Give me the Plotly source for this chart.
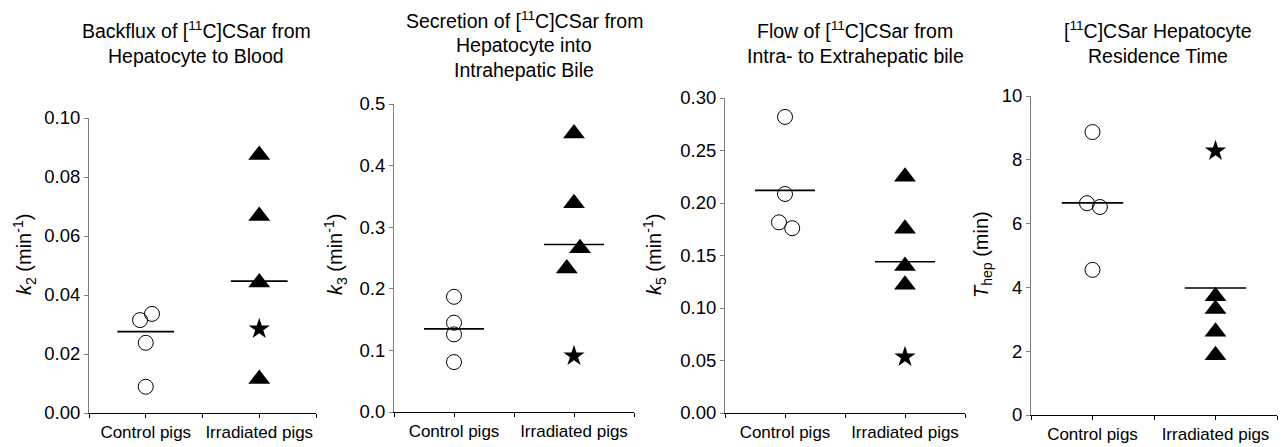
import plotly.graph_objects as go

# ---------------- data ----------------
categories = ["Control pigs", "Irradiated pigs"]
cat_pos = [1, 3]

panel_titles = [
    ["Backflux of [<sup>11</sup>C]CSar from", "Hepatocyte to Blood"],
    ["Secretion of [<sup>11</sup>C]CSar from", "Hepatocyte into", "Intrahepatic Bile"],
    ["Flow of [<sup>11</sup>C]CSar from", "Intra- to Extrahepatic bile"],
    ["[<sup>11</sup>C]CSar Hepatocyte", "Residence Time"],
]
y_titles = [
    "<i>k</i><sub>2</sub> (min<sup>-1</sup>)",
    "<i>k</i><sub>3</sub> (min<sup>-1</sup>)",
    "<i>k</i><sub>5</sub> (min<sup>-1</sup>)",
    "<i>T</i><sub>hep</sub> (min)",
]

# k2
k2_control = [0.0315, 0.0336, 0.0238, 0.0089]
k2_control_x = [0.90, 1.11, 1.0, 1.0]
k2_irr_tri = [0.0875, 0.0668, 0.0442, 0.0115]
k2_irr_tri_x = [3, 3, 3, 3]
k2_irr_star = [0.0285]
k2_lines = [0.0276, 0.0447]
k2_ticks = [0, 0.02, 0.04, 0.06, 0.08, 0.10]

# k3
k3_control = [0.187, 0.145, 0.126, 0.081]
k3_control_x = [1, 1, 1, 1]
k3_irr_tri = [0.452, 0.339, 0.266, 0.233]
k3_irr_tri_x = [3, 3, 3.1, 2.88]
k3_irr_star = [0.091]
k3_lines = [0.135, 0.272]
k3_ticks = [0, 0.1, 0.2, 0.3, 0.4, 0.5]

# k5
k5_control = [0.282, 0.2086, 0.1816, 0.176]
k5_control_x = [1.0, 1.0, 0.90, 1.12]
k5_irr_tri = [0.225, 0.1755, 0.140, 0.1222]
k5_irr_tri_x = [3, 3, 3, 3]
k5_irr_star = [0.0533]
k5_lines = [0.212, 0.144]
k5_ticks = [0, 0.05, 0.10, 0.15, 0.20, 0.25, 0.30]

# Thep
th_control = [8.87, 6.64, 6.52, 4.55]
th_control_x = [1.0, 0.91, 1.12, 1.0]
th_irr_tri = [3.72, 3.32, 2.61, 1.87]
th_irr_tri_x = [3, 3, 3, 3]
th_irr_star = [8.28]
th_lines = [6.65, 3.98]
th_ticks = [0, 2, 4, 6, 8, 10]

panels = [
    dict(c=k2_control, cx=k2_control_x, t=k2_irr_tri, tx=k2_irr_tri_x, s=k2_irr_star,
         lines=k2_lines, ticks=k2_ticks, fmt=".2f"),
    dict(c=k3_control, cx=k3_control_x, t=k3_irr_tri, tx=k3_irr_tri_x, s=k3_irr_star,
         lines=k3_lines, ticks=k3_ticks, fmt=".1f"),
    dict(c=k5_control, cx=k5_control_x, t=k5_irr_tri, tx=k5_irr_tri_x, s=k5_irr_star,
         lines=k5_lines, ticks=k5_ticks, fmt=".2f"),
    dict(c=th_control, cx=th_control_x, t=th_irr_tri, tx=th_irr_tri_x, s=th_irr_star,
         lines=th_lines, ticks=th_ticks, fmt="d"),
]

# ---------------- layout geometry (pixels) ----------------
W, H = 1288, 447
x_px = [(89, 316), (394, 634), (725, 965), (1031, 1277)]
y_px = [(413, 118), (412, 104), (413, 98), (415, 96)]
title_x_px = [196, 524, 855, 1158]
title_line_y_px = [[30, 56], [20, 45, 70], [30, 56], [30, 56]]
ytitle_x_px = [25, 336, 655, 983]
ytitle_y_px = [254, 255, 255, 255]

FONT = "Arial, Liberation Sans, sans-serif"
fig = go.Figure()
layout = dict(
    width=W, height=H, autosize=False,
    margin=dict(l=0, r=0, t=0, b=0, pad=0, autoexpand=False),
    paper_bgcolor="white", plot_bgcolor="white", showlegend=False,
    font=dict(family=FONT, size=17, color="black"),
    annotations=[],
)

for i, p in enumerate(panels):
    n = "" if i == 0 else str(i + 1)
    xa, ya = "x" + n, "y" + n
    # control circles
    fig.add_trace(go.Scatter(
        x=p["cx"], y=p["c"], mode="markers", xaxis=xa, yaxis=ya,
        marker=dict(symbol="circle-open", size=15, color="black", line=dict(width=1, color="black")),
        cliponaxis=False))
    # irradiated triangles
    fig.add_trace(go.Scatter(
        x=p["tx"], y=p["t"], mode="markers", xaxis=xa, yaxis=ya,
        marker=dict(symbol="triangle-up", size=19, color="black"), cliponaxis=False))
    # irradiated star
    fig.add_trace(go.Scatter(
        x=[cat_pos[1]] * len(p["s"]), y=p["s"], mode="markers", xaxis=xa, yaxis=ya,
        marker=dict(symbol="star", size=16, color="black"), cliponaxis=False))
    # group lines
    for cp, lv in zip(cat_pos, p["lines"]):
        fig.add_trace(go.Scatter(
            x=[cp - 0.5, cp + 0.5], y=[lv, lv], mode="lines", xaxis=xa, yaxis=ya,
            line=dict(color="black", width=1.6), cliponaxis=False))

    x0, x1 = x_px[i]
    yb, yt = y_px[i]
    layout["xaxis" + n] = dict(
        domain=[x0 / W, x1 / W], anchor=ya, range=[0, 4], automargin=False,
        tickmode="array", tickvals=[0, 1, 2, 3, 4],
        ticktext=["", categories[0], "", categories[1], ""],
        ticks="outside", ticklen=4, tickcolor="black", tickwidth=1,
        showline=True, linecolor="black", linewidth=1,
        showgrid=False, zeroline=False, fixedrange=True,
        tickfont=dict(size=17, color="black"),
    )
    layout["yaxis" + n] = dict(
        domain=[(H - yb) / H, (H - yt) / H], anchor=xa, automargin=False,
        range=[0, p["ticks"][-1]], tickmode="array", tickvals=p["ticks"],
        tickformat=p["fmt"],
        ticks="outside", ticklen=4, tickcolor="#808080", tickwidth=1,
        showline=True, linecolor="#808080", linewidth=1,
        showgrid=False, zeroline=False, fixedrange=True,
        tickfont=dict(size=18.5, color="black"),
    )
    for line_text, ly in zip(panel_titles[i], title_line_y_px[i]):
        layout["annotations"].append(dict(
            text=line_text, xref="paper", yref="paper",
            x=title_x_px[i] / W, y=(H - ly) / H, xanchor="center", yanchor="middle",
            showarrow=False, align="center", font=dict(size=19.5, color="black")))
    layout["annotations"].append(dict(
        text=y_titles[i], xref="paper", yref="paper", textangle=-90,
        x=ytitle_x_px[i] / W, y=(H - ytitle_y_px[i]) / H, xanchor="center", yanchor="middle",
        showarrow=False, font=dict(size=20, color="black")))

fig.update_layout(**layout)
fig.write_html("out.html")
